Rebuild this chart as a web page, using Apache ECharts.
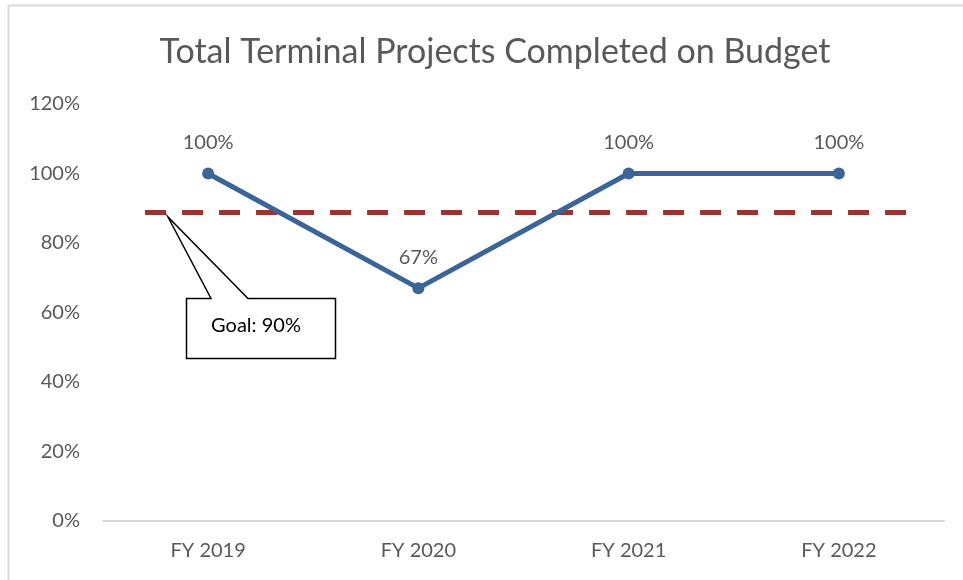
<!DOCTYPE html>
<html>
<head>
<meta charset="utf-8">
<script src="https://cdn.jsdelivr.net/npm/echarts@6/dist/echarts.min.js"></script>
<style>
  html, body { margin: 0; padding: 0; background: #fff; }
  #main { width: 963px; height: 580px; }
</style>
</head>
<body>
<div id="main"></div>
<script>
// chart data
var categories = ['FY 2019', 'FY 2020', 'FY 2021', 'FY 2022'];
var pctValues = [100, 67, 100, 100];
var goalValue = 88.8;           // where the dashed goal line sits on the picture
var goalSpan = [-0.3, 3.34];    // goal line start/end, in category units
var yTicks = { min: 0, max: 120, interval: 20 };

var myChart = echarts.init(document.getElementById('main'));
myChart.setOption({
    animation: false,
    textStyle: { fontFamily: 'Lato' },
    title: {
        text: 'Total Terminal Projects Completed on Budget',
        left: 490,
        textAlign: 'center',
        top: 30,
        textStyle: { fontSize: 34, fontWeight: 'normal', color: '#595959', fontFamily: 'Lato' }
    },
    grid: { left: 103, right: 19, top: 104, bottom: 59 },
    xAxis: [
        {
            type: 'category',
            data: categories,
            axisLine: { lineStyle: { color: '#d9d9d9', width: 2 } },
            axisTick: { show: false },
            axisLabel: { color: '#595959', fontSize: 20, margin: 20 }
        },
        {
            // hidden helper axis for the goal line span
            type: 'value',
            min: -0.5,
            max: 3.5,
            show: false
        }
    ],
    yAxis: {
        type: 'value',
        min: yTicks.min,
        max: yTicks.max,
        interval: yTicks.interval,
        axisLine: { show: false },
        axisTick: { show: false },
        splitLine: { show: false },
        axisLabel: { formatter: '{value}%', color: '#595959', fontSize: 20, margin: 23 }
    },
    series: [
        {
            name: 'Goal',
            type: 'line',
            xAxisIndex: 1,
            data: [[goalSpan[0], goalValue], [goalSpan[1], goalValue]],
            symbol: 'none',
            lineStyle: { color: '#9b3431', width: 5, type: [21, 16] },
            z: 1
        },
        {
            name: 'On Budget',
            type: 'line',
            data: pctValues,
            symbol: 'circle',
            symbolSize: 12,
            itemStyle: { color: '#3b6597' },
            lineStyle: { color: '#3b6597', width: 5 },
            label: {
                show: true,
                position: 'top',
                distance: 15,
                formatter: '{c}%',
                color: '#595959',
                fontSize: 20
            },
            z: 3
        }
    ],
    graphic: [
        // chart frame (left and top edges)
        { type: 'line', shape: { x1: 8.5, y1: 5.5, x2: 963, y2: 5.5 }, style: { stroke: '#d9d9d9', lineWidth: 2 } },
        { type: 'line', shape: { x1: 8.5, y1: 5.5, x2: 8.5, y2: 580 }, style: { stroke: '#d9d9d9', lineWidth: 2 } },
        // goal callout
        {
            type: 'polygon',
            shape: { points: [[186.5, 298.5], [211, 298.5], [168, 217], [248, 298.5], [335.5, 298.5], [335.5, 358.5], [186.5, 358.5]] },
            style: { fill: '#fff', stroke: '#000', lineWidth: 1.5 },
            z: 10
        },
        {
            type: 'text',
            x: 256,
            y: 326,
            style: { text: 'Goal: 90%', fill: '#000', fontSize: 20, fontFamily: 'Lato', align: 'center', verticalAlign: 'middle' },
            z: 11
        }
    ]
});
</script>
</body>
</html>
